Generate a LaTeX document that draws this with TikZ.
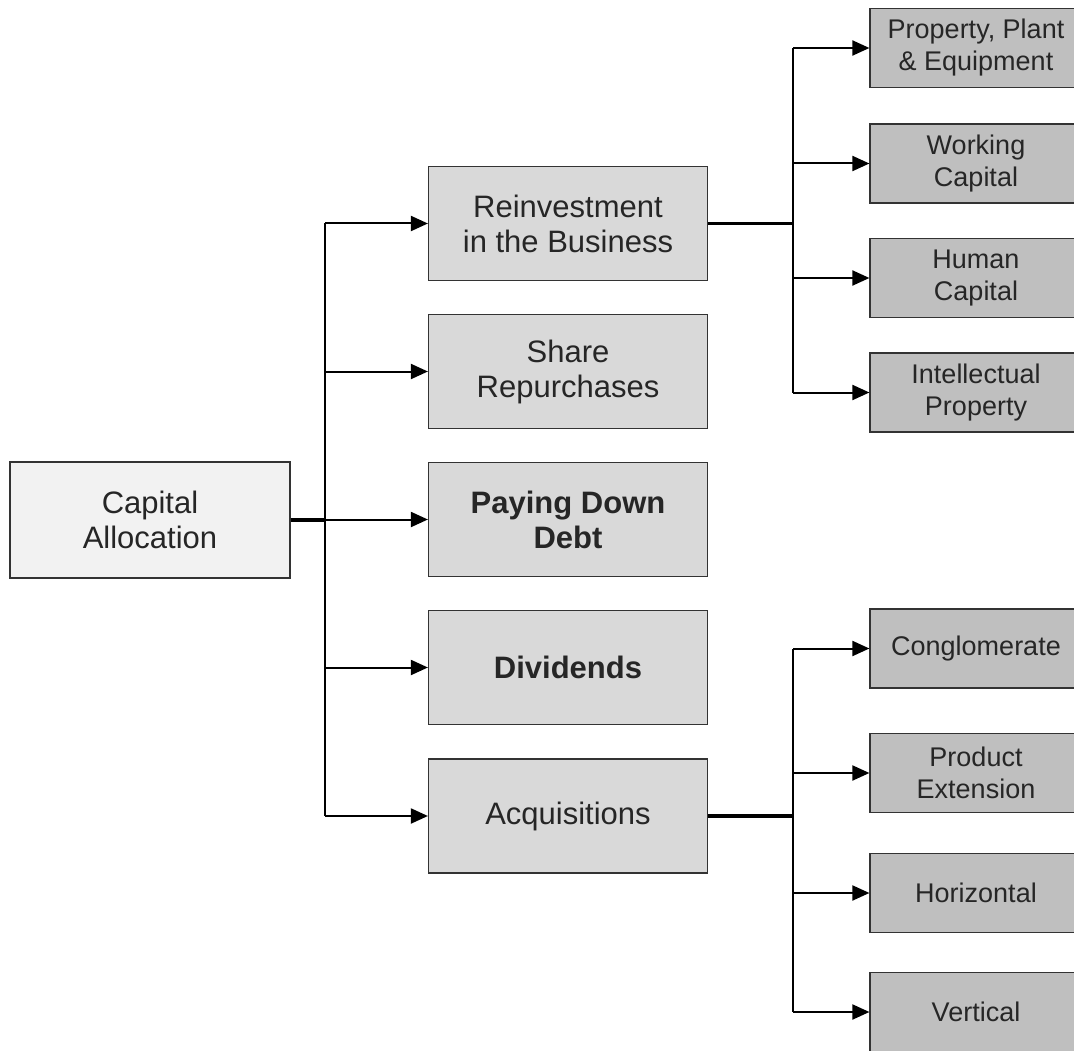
\documentclass[tikz,border=0pt]{standalone}
\usepackage{fontspec}
\setmainfont{Liberation Sans}
\usetikzlibrary{arrows.meta}

\begin{document}
\begin{tikzpicture}[x=1pt,y=-1pt,
  box/.style={draw=black!80,line width=1.2pt,text=black!85,align=center,inner sep=0pt},
  big/.style={font=\fontsize{31}{35}\selectfont},
  bold/.style={font=\fontsize{31}{35}\selectfont\bfseries},
  root/.style={box,big,fill=black!5,minimum width=280,minimum height=116},
  mid/.style={box,big,fill=black!15,minimum width=279,minimum height=114},
  leaf/.style={box,fill=black!25,minimum width=212,minimum height=79,font=\fontsize{27}{32}\selectfont},
  trunk/.style={line width=3.5pt},
  spine/.style={line width=2.2pt},
  br/.style={line width=2pt,-{Triangle[length=17pt,width=15pt]}}]
  \clip (0,0) rectangle (1074,1051);
  % root and first level
  \node[root] (cap) at (150,520) {Capital\\Allocation};
  \node[mid] (rein) at (568,223.5) {Reinvestment\\in the Business};
  \node[mid] (share) at (568,371.5) {Share\\Repurchases};
  \node[mid,bold] (debt) at (568,519.5) {Paying Down\\Debt};
  \node[mid,bold] (div) at (568,667.5) {Dividends};
  \node[mid] (acq) at (568,816) {Acquisitions};
  % second level
  \node[leaf] (ppe) at (976,48) {Property, Plant\\\& Equipment};
  \node[leaf] (work) at (976,163.5) {Working\\Capital};
  \node[leaf] (human) at (976,278) {Human\\Capital};
  \node[leaf] (ip) at (976,392.5) {Intellectual\\Property};
  \node[leaf] (cong) at (976,648.5) {Conglomerate};
  \node[leaf] (prod) at (976,773) {Product\\Extension};
  \node[leaf] (hor) at (976,893) {Horizontal};
  \node[leaf] (vert) at (976,1012) {Vertical};
  % junctions
  \coordinate (j0) at (325,520);
  \coordinate (j1) at (793,223.5);
  \coordinate (j2) at (793,816);
  % connectors
  \draw[trunk] (cap.east) -- (j0);
  \draw[spine] (j0 |- rein.west) -- (j0 |- acq.west);
  \foreach \n in {rein,share,debt,div,acq} \draw[br] (j0 |- \n.west) -- (\n.west);
  \draw[trunk] (rein.east) -- (j1);
  \draw[spine] (j1 |- ppe.west) -- (j1 |- ip.west);
  \foreach \n in {ppe,work,human,ip} \draw[br] (j1 |- \n.west) -- (\n.west);
  \draw[trunk] (acq.east) -- (j2);
  \draw[spine] (j2 |- cong.west) -- (j2 |- vert.west);
  \foreach \n in {cong,prod,hor,vert} \draw[br] (j2 |- \n.west) -- (\n.west);
\end{tikzpicture}
\end{document}
